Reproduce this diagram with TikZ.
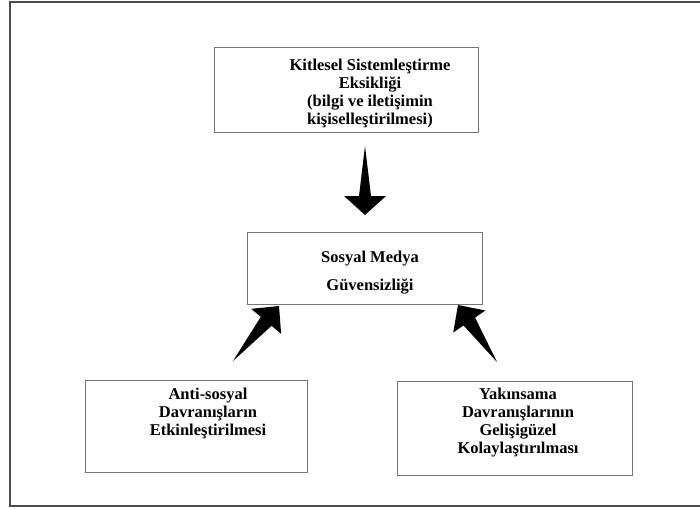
\documentclass[tikz,border=0pt]{standalone}
\usepackage{fontspec}
\setmainfont{Liberation Serif}
\usepackage{tikz}
\usetikzlibrary{calc,positioning}
\tikzset{
  cerceve/.style={draw=black!70, line width=1.5pt},
  kutu/.style={draw=black!55, line width=0.8pt, inner sep=0pt},
  yazi/.style={align=center, font=\fontsize{16.5}{17.8}\selectfont\bfseries, inner sep=0pt, anchor=north},
  okdolgu/.style={fill=black}
}
% tapered block arrow: tail, tip, head length, head half width, shaft half width
\newcommand{\blokok}[5]{%
  \coordinate (okbas) at ($(#2)!#3!(#1)$);
  \fill[okdolgu] (#1) -- ($(okbas)!#5!90:(#2)$) -- ($(okbas)!#4!90:(#2)$) -- (#2)
    -- ($(okbas)!#4!-90:(#2)$) -- ($(okbas)!#5!-90:(#2)$) -- cycle;
}
\begin{document}
\begin{tikzpicture}[x=1pt, y=-1pt]
  \useasboundingbox (0,0) rectangle (700,508);
  \draw[cerceve] (701,2) -- (10,2) -- (10,506) -- (701,506);

  % boxes
  \node[kutu, minimum width=264pt, minimum height=85pt] (kitle) at (346,89.5) {};
  \node[yazi] (kitleyazi) at (370,59) {Kitlesel Sistemleştirme\\Eksikliği\\(bilgi ve iletişimin\\kişiselleştirilmesi)};
  \node[kutu, minimum width=235pt, minimum height=72pt] (guven) at (364.5,268) {};
  \node[yazi] (guvenyazi) at (370,251) {Sosyal Medya\\[10.4pt]Güvensizliği};
  \node[kutu, minimum width=222pt, minimum height=92pt] (anti) at (196,426) {};
  \node[yazi] (antiyazi) at (208,388) {Anti-sosyal\\Davranışların\\Etkinleştirilmesi};
  \node[kutu, minimum width=235pt, minimum height=94pt] (yakin) at (514.5,428) {};
  \node[yazi] (yakinyazi) at (518,388) {Yakınsama\\Davranışlarının\\Gelişigüzel\\Kolaylaştırılması};

  % arrows
  \coordinate (ok1k) at (365,146);
  \coordinate (ok1u) at (365,215);
  \coordinate (ok2k) at (233,361);
  \coordinate (ok2u) at (279,306);
  \coordinate (ok3k) at (497,362);
  \coordinate (ok3u) at (458,305);
  \blokok{ok1k}{ok1u}{19pt}{21pt}{6pt}
  \blokok{ok2k}{ok2u}{20pt}{19.5pt}{7pt}
  \blokok{ok3k}{ok3u}{20pt}{19.5pt}{7pt}
\end{tikzpicture}
\end{document}
